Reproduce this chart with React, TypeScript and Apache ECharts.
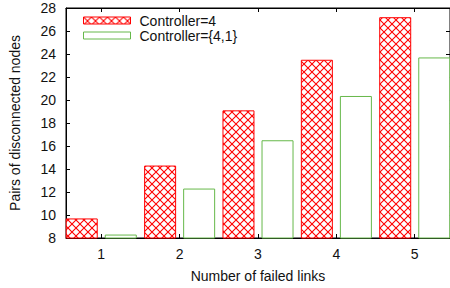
import React, { useEffect, useRef } from "react";
import * as echarts from "echarts";

const categories = [1, 2, 3, 4, 5];
const controller4 = [9.7, 14.3, 19.1, 23.5, 27.2];
const controller41 = [8.3, 12.3, 16.5, 20.35, 23.7];
const seriesNames = ["Controller=4", "Controller={4,1}"];
const yTicks = [8, 10, 12, 14, 16, 18, 20, 22, 24, 26, 28];

function makeHatch(): HTMLCanvasElement {
  const c = document.createElement("canvas");
  c.width = 8;
  c.height = 8;
  const ctx = c.getContext("2d")!;
  ctx.fillStyle = "#ffffff";
  ctx.fillRect(0, 0, 8, 8);
  ctx.strokeStyle = "#ff0000";
  ctx.lineWidth = 1.1;
  ctx.beginPath();
  ctx.moveTo(0, 0);
  ctx.lineTo(8, 8);
  ctx.moveTo(8, 0);
  ctx.lineTo(0, 8);
  ctx.stroke();
  return c;
}

export default function App() {
  const ref = useRef<HTMLDivElement>(null);
  useEffect(() => {
    if (!ref.current) return;
    const chart = echarts.init(ref.current, undefined, { renderer: "svg" });
    const hatch = { image: makeHatch(), repeat: "repeat" } as any;
    const font = "Liberation Sans, Arial, Helvetica, sans-serif";
    const red = "#ff0000";
    const green = "#66b84a";
    const fs = 14;
    chart.setOption({
      animation: false,
      grid: {
        left: 65,
        top: 8,
        right: -1,
        bottom: 49,
        show: true,
        borderColor: "#000",
        borderWidth: 1,
        backgroundColor: "transparent",
      },
      legend: {
        orient: "vertical",
        left: 83,
        top: 13,
        padding: 0,
        itemWidth: 47,
        itemHeight: 7,
        itemGap: 0,
        textStyle: {
          fontFamily: font,
          fontSize: fs,
          color: "#111",
          lineHeight: 15,
          padding: [0, 0, 0, 4],
        },
        data: [
          { name: seriesNames[0], icon: "rect", itemStyle: { color: hatch, borderColor: red, borderWidth: 1 } },
          { name: seriesNames[1], icon: "rect", itemStyle: { color: "#fff", borderColor: green, borderWidth: 1 } },
        ],
      },
      xAxis: [
        {
          type: "value",
          min: 0.55,
          max: 5.45,
          position: "bottom",
          name: "Number of failed links",
          nameLocation: "middle",
          nameGap: 31,
          nameTextStyle: { fontFamily: font, fontSize: fs, color: "#111" },
          axisLine: { show: true, lineStyle: { color: "#000", width: 1 } },
          axisTick: { show: true, inside: true, length: 4, customValues: categories, lineStyle: { color: "#000" } },
          axisLabel: { show: true, customValues: categories, margin: 9, fontFamily: font, fontSize: fs, color: "#111" },
          splitLine: { show: false },
        },
        {
          type: "value",
          min: 0.55,
          max: 5.45,
          position: "top",
          axisLine: { show: true, lineStyle: { color: "#000", width: 1 } },
          axisTick: { show: true, inside: true, length: 4, customValues: categories, lineStyle: { color: "#000" } },
          axisLabel: { show: false },
          splitLine: { show: false },
        },
      ],
      yAxis: [
        {
          type: "value",
          min: 8,
          max: 28,
          interval: 2,
          position: "left",
          name: "Pairs of disconnected nodes",
          nameLocation: "middle",
          nameGap: 44,
          nameTextStyle: { fontFamily: font, fontSize: fs, color: "#111" },
          axisLine: { show: true, lineStyle: { color: "#000", width: 1 } },
          axisTick: { show: true, inside: true, length: 4, customValues: yTicks, lineStyle: { color: "#000" } },
          axisLabel: { show: true, customValues: yTicks, margin: 10, fontFamily: font, fontSize: fs, color: "#111" },
          splitLine: { show: false },
        },
        {
          type: "value",
          min: 8,
          max: 28,
          interval: 2,
          position: "right",
          axisLine: { show: true, lineStyle: { color: "#000", width: 1 } },
          axisTick: { show: true, inside: true, length: 4, lineStyle: { color: "#000" } },
          axisLabel: { show: false },
          splitLine: { show: false },
        },
      ],
      series: [
        {
          name: seriesNames[0],
          type: "bar",
          xAxisIndex: 0,
          yAxisIndex: 0,
          barWidth: 32,
          barGap: "22%",
          data: categories.map((c, i) => [c, controller4[i]]),
          itemStyle: { color: hatch, borderColor: red, borderWidth: 1 },
        },
        {
          name: seriesNames[1],
          type: "bar",
          xAxisIndex: 0,
          yAxisIndex: 0,
          barWidth: 32,
          barGap: "22%",
          data: categories.map((c, i) => [c, controller41[i]]),
          itemStyle: { color: "#fff", borderColor: green, borderWidth: 1 },
        },
      ],
    });
    return () => chart.dispose();
  }, []);
  return <div ref={ref} style={{ width: 450, height: 288, position: "absolute", left: 0, top: 0 }} />;
}
